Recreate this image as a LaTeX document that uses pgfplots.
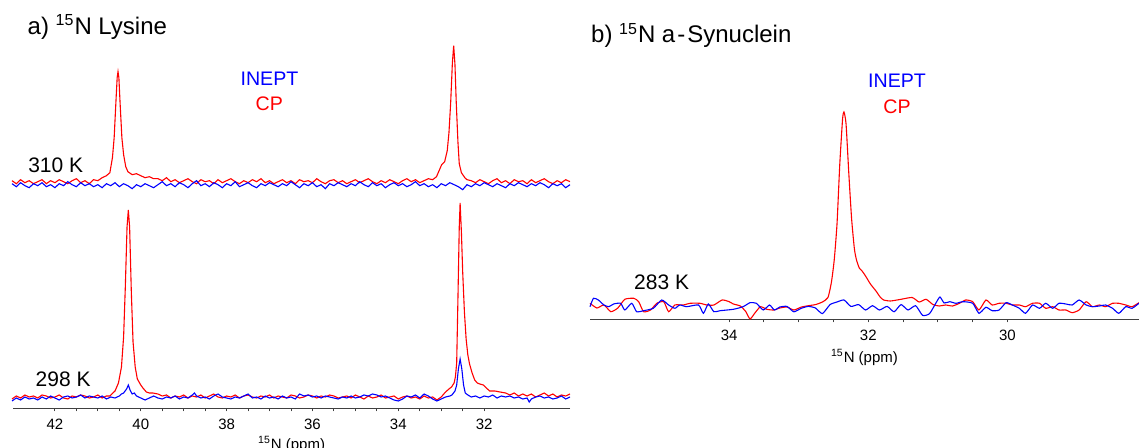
\documentclass[border=0pt]{standalone}
\usepackage{fontspec}
\setmainfont{Liberation Sans}
\usepackage{pgfplots}
\pgfplotsset{compat=1.18}
\definecolor{specred}{RGB}{255,0,0}
\definecolor{specblue}{RGB}{0,0,255}
\pgfplotsset{
  nmr/.style={scale only axis, clip=false, x dir=reverse,
    axis x line*=bottom, axis y line=none,
    x axis line style={-, black!75, line width=0.7pt},
    tick align=outside, major tick length=1.6pt, minor tick length=1.6pt,
    every tick/.style={black!75, line width=0.5pt},
    ytick=\empty, minor x tick num=3,
    /pgf/number format/assume math mode=true,
    xticklabel style={font=\fontsize{7.5}{9}\selectfont, text=black},
    xlabel style={font=\fontsize{7.5}{9}\selectfont},
    xlabel={\textsuperscript{15}N (ppm)}},
  hid/.style={scale only axis, clip=false, x dir=reverse, hide axis},
  rs/.style={specred, line width=0.55pt},
  bs/.style={specblue, line width=0.55pt},
}
\begin{document}
\begin{tikzpicture}[x=1pt,y=1pt]
\path[use as bounding box] (0,0) rectangle (569.5,224);

% ---------- a) top spectrum, 310 K ----------
\begin{axis}[hid, at={(6.65pt,124pt)}, anchor=south west, width=278.35pt, height=80pt,
  xmin=30, xmax=42.97, ymin=-17.3, ymax=142.7]
\addplot[rs] table {
43.0 2
42.9 -1
42.8 3
42.7 0
42.6 2
42.5 -1
42.4 1
42.3 3
42.2 -1
42.1 2
42.0 0
41.9 3
41.8 1
41.7 -1
41.6 2
41.5 4
41.4 0
41.3 2
41.2 -1
41.1 3
41.0 2
40.9 5
40.8 7
40.72 10
40.66 25
40.62 45
40.58 80
40.55 105
40.53 111
40.51 105
40.48 78
40.44 45
40.40 28
40.35 16
40.30 11
40.2 8
40.1 9
40.0 7
39.9 5
39.8 6
39.7 4
39.6 4
39.5 2
39.4 5
39.3 1
39.2 3
39.1 0
39.0 2
38.9 4
38.8 1
38.7 -1
38.6 3
38.5 1
38.4 2
38.3 -1
38.2 3
38.1 0
38.0 2
37.9 4
37.8 1
37.7 -1
37.6 2
37.5 0
37.4 3
37.3 1
37.2 4
37.1 0
37.0 2
36.9 -1
36.8 1
36.7 3
36.6 0
36.5 2
36.4 -1
36.3 3
36.2 1
36.1 2
36.0 0
35.9 4
35.8 1
35.7 -1
35.6 2
35.5 3
35.4 0
35.3 2
35.2 -1
35.1 1
35.0 3
34.9 0
34.8 2
34.7 4
34.6 1
34.5 -1
34.4 2
34.3 0
34.2 3
34.1 1
34.0 -1
33.9 2
33.8 4
33.7 1
33.6 3
33.5 0
33.4 2
33.3 4
33.2 3
33.11 6
33.05 12
32.99 18
32.92 21
32.86 32
32.82 50
32.78 80
32.74 120
32.71 137
32.68 118
32.65 80
32.61 40
32.58 19
32.53 10
32.45 5
32.4 3
32.3 2
32.2 0
32.1 3
32.0 1
31.9 -1
31.8 2
31.7 4
31.6 0
31.5 2
31.4 -1
31.3 3
31.2 1
31.1 2
31.0 -1
30.9 3
30.8 0
30.7 2
30.6 4
30.5 1
30.4 -1
30.3 2
30.2 0
30.1 3
30.0 1
};
\addplot[bs] table {
43.0 -1
42.9 -4
42.8 0
42.7 -3
42.6 -5
42.5 -1
42.4 -3
42.3 0
42.2 -4
42.1 -2
42.0 -5
41.9 -1
41.8 -3
41.7 1
41.6 -2
41.5 -4
41.4 0
41.3 -3
41.2 -1
41.1 -4
41.0 -2
40.9 -5
40.8 -1
40.7 -3
40.6 0
40.5 -4
40.4 -1
40.3 -3
40.2 -6
40.1 -2
40.0 -4
39.9 -1
39.8 -3
39.7 -5
39.6 -2
39.5 1
39.4 -3
39.3 -1
39.2 -4
39.1 0
39.0 -2
38.9 -5
38.8 -1
38.7 2
38.6 -3
38.5 -1
38.4 -4
38.3 0
38.2 -2
38.1 -5
38.0 -1
37.9 -3
37.8 1
37.7 -4
37.6 -2
37.5 0
37.4 -3
37.3 -5
37.2 -1
37.1 -3
37.0 0
36.9 -2
36.8 -4
36.7 -1
36.6 -3
36.5 1
36.4 -2
36.3 -5
36.2 -1
36.1 -3
36.0 0
35.9 -4
35.8 -2
35.7 -6
35.6 -1
35.5 -3
35.4 0
35.3 -2
35.2 -4
35.1 -1
35.0 -3
34.9 1
34.8 -2
34.7 -4
34.6 0
34.5 -3
34.4 -1
34.3 -5
34.2 -2
34.1 0
34.0 -3
33.9 -1
33.8 -4
33.7 -2
33.6 1
33.5 -3
33.4 -1
33.3 -4
33.2 -2
33.1 -5
33.0 -1
32.9 -3
32.8 0
32.7 -2
32.6 -4
32.5 -7
32.4 -2
32.3 -4
32.2 -1
32.1 -3
32.0 0
31.9 -2
31.8 -4
31.7 -1
31.6 -3
31.5 -5
31.4 -1
31.3 -3
31.2 0
31.1 -2
31.0 -4
30.9 -1
30.8 -3
30.7 0
30.6 -2
30.5 -5
30.4 -1
30.3 -3
30.2 -1
30.1 -5
30.0 -2
};
\end{axis}

% ---------- a) bottom spectrum, 298 K ----------
\begin{axis}[nmr, at={(6.65pt,19.85pt)}, anchor=south west, width=278.35pt, height=109.15pt,
  xmin=30, xmax=42.97, ymin=-11.3, ymax=207, xtick={32,34,36,38,40,42},
  xlabel style={yshift=3.5pt}]
\addplot[rs] table {
43.0 -2
42.9 1
42.8 -1
42.7 2
42.6 0
42.5 1
42.4 -1
42.3 2
42.2 1
42.1 -1
42.0 0
41.9 2
41.8 -1
41.7 -2
41.6 1
41.5 0
41.4 2
41.3 1
41.2 -1
41.1 0
41.0 2
40.9 -1
40.8 1
40.72 1
40.65 4
40.6 6
40.52 14
40.45 30
40.40 60
40.36 110
40.32 170
40.29 187
40.26 170
40.22 105
40.18 55
40.13 30
40.08 18
40.0 12
39.95 9
39.87 5
39.8 4
39.72 4
39.6 3
39.5 1
39.4 2
39.3 -1
39.2 1
39.1 0
39.0 2
38.9 -1
38.8 1
38.7 0
38.6 2
38.5 -1
38.4 1
38.3 3
38.2 0
38.1 -1
38.0 1
37.9 0
37.8 2
37.7 -1
37.6 1
37.5 2
37.4 0
37.3 -1
37.2 1
37.1 0
37.0 2
36.9 -1
36.8 1
36.7 0
36.6 -1
36.5 2
36.4 1
36.3 -1
36.2 0
36.1 2
36.0 1
35.9 -1
35.8 1
35.7 0
35.6 2
35.5 1
35.4 -1
35.3 0
35.2 1
35.1 -1
35.0 2
34.9 0
34.8 -2
34.7 1
34.6 -1
34.5 0
34.4 2
34.3 -1
34.2 0
34.1 1
34.0 -2
33.9 0
33.8 1
33.7 -1
33.6 0
33.5 -2
33.4 1
33.3 -1
33.2 0
33.1 -3
33.0 0
32.9 5
32.82 8
32.76 10
32.70 14
32.67 20
32.64 34
32.61 100
32.58 170
32.56 194
32.53 165
32.50 125
32.46 85
32.42 58
32.38 42
32.34 33
32.28 24
32.22 17
32.16 14
32.10 13
32.02 12
31.95 9
31.87 6
31.75 6
31.63 5
31.5 4
31.4 2
31.3 4
31.2 1
31.1 3
31.0 1
30.9 3
30.8 0
30.7 2
30.6 4
30.5 1
30.4 3
30.3 0
30.2 2
30.1 1
30.0 3
};
\addplot[bs] table {
43.0 -4
42.9 -1
42.8 -3
42.7 0
42.6 -2
42.5 -1
42.4 -3
42.3 0
42.2 -2
42.1 1
42.0 -1
41.9 -3
41.8 0
41.7 1
41.6 -1
41.5 0
41.4 2
41.3 -1
41.2 1
41.1 0
41.0 -1
40.9 1
40.8 -2
40.7 0
40.6 -1
40.5 1
40.45 3
40.4 4
40.33 8
40.29 12
40.25 7
40.2 3
40.15 4
40.1 1
40.0 -1
39.9 -3
39.8 -1
39.7 1
39.6 -1
39.5 -2
39.4 0
39.3 -1
39.2 1
39.1 -2
39.0 0
38.9 -1
38.8 2
38.75 4
38.7 1
38.6 -1
38.5 0
38.4 -2
38.3 1
38.2 3
38.1 0
38.0 -1
37.9 -2
37.8 0
37.7 -1
37.6 1
37.5 3
37.4 -1
37.3 0
37.2 -2
37.1 1
37.0 -1
36.9 0
36.8 -2
36.7 1
36.6 -1
36.5 0
36.4 -2
36.3 3
36.2 1
36.1 2
36.0 0
35.9 1
35.8 -1
35.7 1
35.6 0
35.5 -1
35.4 -2
35.3 0
35.2 -1
35.1 1
35.0 -1
34.9 0
34.8 2
34.7 1
34.6 3
34.5 2
34.4 0
34.3 1
34.2 -1
34.1 -3
34.0 -4
33.9 -2
33.8 1
33.7 0
33.6 2
33.5 -1
33.4 3
33.3 1
33.2 -2
33.1 -4
33.0 -2
32.9 0
32.8 1
32.75 2
32.68 6
32.64 12
32.60 28
32.56 38
32.52 28
32.48 12
32.44 4
32.38 2
32.3 0
32.2 1
32.1 -1
32.0 1
31.9 0
31.8 2
31.7 -1
31.6 1
31.5 0
31.4 1
31.3 -1
31.2 0
31.1 -2
31.0 -1
30.95 -5
30.9 -2
30.8 0
30.7 1
30.6 -1
30.5 0
30.4 -2
30.3 -1
30.2 1
30.1 -2
30.0 0
};
\end{axis}

% ---------- b) alpha-synuclein, 283 K ----------
\begin{axis}[nmr, at={(295pt,64.35pt)}, anchor=south west, width=274.5pt, height=109.65pt,
  xmin=28.11, xmax=36.0, ymin=-15.3, ymax=204, xtick={30,32,34},
  xlabel style={yshift=2.5pt}]
\addplot[rs, smooth, tension=0.35] table {
36.0 0.7
35.9 -4
35.8 -1
35.7 -7.7
35.6 -4
35.5 4.7
35.37 5.7
35.3 2.3
35.23 -7.7
35.13 -6
35.04 0.7
34.94 2.3
34.87 -7.7
34.78 -1
34.66 -1
34.56 0.7
34.42 0.7
34.32 -1
34.22 -1
34.1 4
34.0 2.3
33.94 0
33.84 -2
33.76 -7.7
33.7 -15
33.63 -9
33.55 -2.7
33.46 -5.3
33.36 -6
33.27 -4
33.17 -3
33.07 -6
32.96 -3
32.86 -1.7
32.76 -0.6
32.66 2
32.58 6.5
32.53 22
32.49 44
32.45 80
32.41 140
32.37 185
32.35 192
32.32 180
32.28 130
32.24 85
32.20 55
32.17 44
32.13 36
32.09 33
32.04 28
31.97 20
31.89 13
31.83 7
31.78 4
31.68 3
31.53 4.7
31.37 6.5
31.27 2
31.17 4.7
31.07 -0.6
30.98 -2
30.89 -1
30.79 -2
30.69 0.7
30.6 4
30.5 2.3
30.41 -6
30.31 4
30.22 -1
30.12 0.7
30.02 0.7
29.93 -1
29.83 -1
29.74 -2.7
29.64 0.7
29.54 0.7
29.45 -4.3
29.35 -2.7
29.26 -6
29.16 -6
29.07 -8.7
28.97 -6
28.87 2.3
28.78 -2.7
28.68 -1
28.59 -2.7
28.49 0.7
28.4 0.7
28.3 -1
28.21 -2.7
28.11 1.3
};
\addplot[bs, smooth, tension=0.35] table {
36.0 -2.7
35.95 5.7
35.88 4
35.8 -1
35.73 -2.7
35.66 0
35.56 0.7
35.5 -6
35.4 0.7
35.33 -7.7
35.23 -6.7
35.09 -4.3
34.97 4
34.87 -1
34.78 -4.3
34.71 -1
34.61 -2.7
34.44 -1
34.37 -9.3
34.3 0
34.22 -7.7
34.13 -6.7
33.94 -5.3
33.8 -2.7
33.7 1.3
33.61 0.7
33.51 -6
33.42 -1
33.35 -6
33.27 -3
33.17 -2.4
33.07 -7.8
32.96 -4.2
32.86 -2.4
32.76 -4
32.66 -9.6
32.55 -0.6
32.45 2
32.35 4
32.25 -2.4
32.14 -0.6
32.04 -6
31.94 -1.7
31.84 -6
31.73 -2.4
31.63 -7.8
31.53 -0.6
31.43 -6
31.32 -1.7
31.22 -11.4
31.12 -9.6
31.02 2
30.97 7
30.91 1
30.83 2.3
30.74 0.7
30.64 2.3
30.5 0.7
30.41 -9.3
30.31 -3.3
30.22 -6.7
30.12 -6
30.02 1.3
29.93 -1
29.83 -4.3
29.74 -9.3
29.64 -1
29.54 -4.3
29.45 0.7
29.35 -4.3
29.26 0.7
29.16 0
29.07 -1
28.97 4
28.87 -1
28.78 -2.7
28.68 -2
28.59 -1
28.49 -4.3
28.4 -9.3
28.3 -2.7
28.21 -4.3
28.11 0.7
};
\end{axis}

% ---------- text ----------
\node[anchor=base west, inner sep=0pt, font=\fontsize{12}{14}\selectfont] at (13.65,206.85) {a) \textsuperscript{15}N Lysine};
\node[anchor=base west, inner sep=0pt, font=\fontsize{12}{14}\selectfont] at (295.4,202.5) {b) \textsuperscript{15}N a\kern1pt-\kern1pt Synuclein};
\node[anchor=base, inner sep=0pt, font=\fontsize{9.8}{12}\selectfont, text=specblue] at (134.75,181) {INEPT};
\node[anchor=base, inner sep=0pt, font=\fontsize{9.8}{12}\selectfont, text=specred] at (134.65,168.5) {CP};
\node[anchor=base, inner sep=0pt, font=\fontsize{9.8}{12}\selectfont, text=specblue] at (448.5,180.1) {INEPT};
\node[anchor=base, inner sep=0pt, font=\fontsize{9.8}{12}\selectfont, text=specred] at (448.5,167) {CP};
\node[anchor=base west, inner sep=0pt, font=\fontsize{10.5}{12}\selectfont] at (13.95,137.85) {310 K};
\node[anchor=base west, inner sep=0pt, font=\fontsize{10.5}{12}\selectfont] at (17.65,30.75) {298 K};
\node[anchor=base west, inner sep=0pt, font=\fontsize{10.5}{12}\selectfont] at (316.9,79.3) {283 K};
\end{tikzpicture}
\end{document}
